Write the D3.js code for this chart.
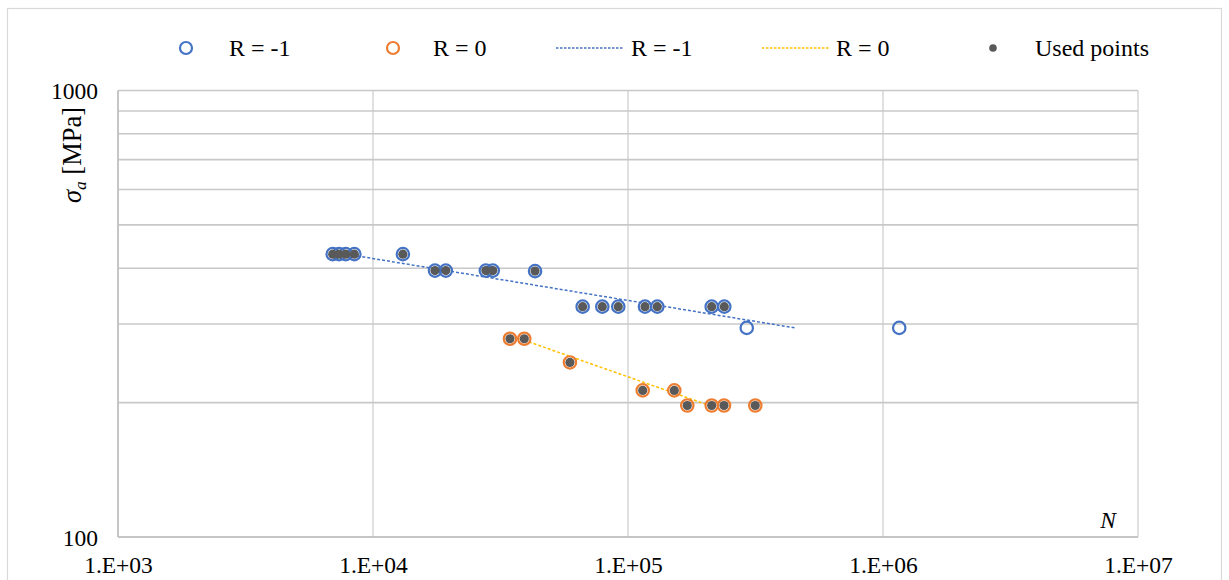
<!DOCTYPE html>
<html>
<head>
<meta charset="utf-8">
<script src="https://cdn.jsdelivr.net/npm/d3@7"></script>
<style>
  html, body { margin: 0; padding: 0; background: #fff; }
  svg { display: block; }
  text { font-family: "Liberation Serif", "Times New Roman", serif; fill: #000; }
</style>
</head>
<body>
<svg id="chart" width="1229" height="580"></svg>
<script>
// ---- data ----
const rm1N = [6950, 7360, 7820, 8450, 13100, 17500, 19300, 27700, 29500, 43200, 66400, 79300, 91600, 116600, 130300, 212900, 238600, 292200, 1158000];
const rm1S = [430, 430, 430, 430, 430, 395, 395, 395, 395, 394, 328, 328, 328, 328, 328, 328, 328, 294, 294];
const rm1Used = [1, 1, 1, 1, 1, 1, 1, 1, 1, 1, 1, 1, 1, 1, 1, 1, 1, 0, 0];

const r0N = [34450, 39200, 59200, 114200, 151900, 170800, 212900, 238000, 315600];
const r0S = [278, 278, 246, 213, 213, 197, 197, 197, 197];
const r0Used = [1, 1, 1, 1, 1, 1, 1, 1, 1];

const trendRm1N = [6950, 451600];
const trendRm1S = [435, 294];
const trendR0N = [34450, 200400];
const trendR0S = [283, 198.6];

const xTicks = [1e3, 1e4, 1e5, 1e6, 1e7];
const xTickLabels = ["1.E+03", "1.E+04", "1.E+05", "1.E+06", "1.E+07"];
const yGrid = [100, 200, 300, 400, 500, 600, 700, 800, 900, 1000];
const yTickLabels = ["1000", "100"];
const yTickValues = [1000, 100];

const legendLabels = ["R = -1", "R = 0", "R = -1", "R = 0", "Used points"];

// ---- colours ----
const blue = "#4472C4", orange = "#ED7D31", yellow = "#FFC000", gray = "#595959";

const svg = d3.select("#chart");
const pLeft = 118, pRight = 1138, pTop = 90.5, pBottom = 537;
const fs = 23.5;

const x = d3.scaleLog().domain([1e3, 1e7]).range([pLeft, pRight]);
const y = d3.scaleLog().domain([100, 1000]).range([pBottom, pTop]);

// outer chart border
svg.append("rect").attr("x", 7.5).attr("y", 8.5).attr("width", 1214).attr("height", 600)
  .attr("fill", "none").attr("stroke", "#d9d9d9").attr("stroke-width", 1.2);

// gridlines
const g = svg.append("g");
g.selectAll("line.v").data(xTicks).join("line").attr("class", "v")
  .attr("x1", d => x(d)).attr("x2", d => x(d)).attr("y1", pTop).attr("y2", pBottom)
  .attr("stroke", "#d9d9d9").attr("stroke-width", 1.6);
g.selectAll("line.h").data(yGrid).join("line").attr("class", "h")
  .attr("x1", pLeft).attr("x2", pRight).attr("y1", d => y(d)).attr("y2", d => y(d))
  .attr("stroke", "#c8c8c8").attr("stroke-width", 1.6);
// axis lines
g.append("line").attr("x1", pLeft).attr("x2", pLeft).attr("y1", pTop).attr("y2", pBottom)
  .attr("stroke", "#bfbfbf").attr("stroke-width", 1.6);
g.append("line").attr("x1", pLeft).attr("x2", pRight).attr("y1", pBottom).attr("y2", pBottom)
  .attr("stroke", "#bfbfbf").attr("stroke-width", 1.6);

// axes labels via d3 axes (no lines)
const xAxis = d3.axisBottom(x).tickValues(xTicks).tickFormat((d, i) => xTickLabels[i]).tickSize(0).tickPadding(0);
const xa = svg.append("g").attr("transform", `translate(0,${pBottom + 28})`).call(xAxis);
xa.select(".domain").remove();
xa.selectAll("text").attr("font-size", fs).attr("font-family", "Liberation Serif").attr("fill", "#000").attr("dy", "0.35em");

const yAxis = d3.axisLeft(y).tickValues(yTickValues).tickFormat((d, i) => yTickLabels[i]).tickSize(0).tickPadding(0);
const ya = svg.append("g").attr("transform", `translate(${98},0)`).call(yAxis);
ya.select(".domain").remove();
ya.selectAll("text").attr("font-size", fs).attr("font-family", "Liberation Serif").attr("fill", "#000").attr("dy", "0.35em");

// y axis title
const yt = svg.append("text").attr("transform", "translate(81,155) rotate(-90)")
  .attr("text-anchor", "middle").attr("font-size", 26.5);
yt.append("tspan").attr("font-style", "italic").text("σ");
yt.append("tspan").attr("font-style", "italic").attr("font-size", 17.5).attr("dy", 5).text("a");
yt.append("tspan").attr("dy", -5).text(" [MPa]");

// N label
svg.append("text").attr("x", 1108).attr("y", 528).attr("text-anchor", "middle")
  .attr("font-size", fs).attr("font-style", "italic").text("N");

// trendlines
const line = d3.line().x(d => x(d[0])).y(d => y(d[1]));
svg.append("path").datum(d3.zip(trendRm1N, trendRm1S)).attr("d", line)
  .attr("fill", "none").attr("stroke", blue).attr("stroke-width", 1.5).attr("stroke-dasharray", "3,2");
svg.append("path").datum(d3.zip(trendR0N, trendR0S)).attr("d", line)
  .attr("fill", "none").attr("stroke", yellow).attr("stroke-width", 1.5).attr("stroke-dasharray", "3,2");

// markers
function series(N, S, color) {
  svg.append("g").selectAll("circle").data(d3.zip(N, S)).join("circle")
    .attr("cx", d => x(d[0])).attr("cy", d => y(d[1])).attr("r", 6.2)
    .attr("fill", "none").attr("stroke", color).attr("stroke-width", 2.2);
}
series(rm1N, rm1S, blue);
series(r0N, r0S, orange);

const used = d3.zip(rm1N, rm1S, rm1Used).concat(d3.zip(r0N, r0S, r0Used)).filter(d => d[2]);
svg.append("g").selectAll("circle").data(used).join("circle")
  .attr("cx", d => x(d[0])).attr("cy", d => y(d[1])).attr("r", 4.6).attr("fill", gray);

// legend
const ly = 48;
const lg = svg.append("g");
lg.append("circle").attr("cx", 186).attr("cy", ly).attr("r", 6).attr("fill", "none").attr("stroke", blue).attr("stroke-width", 2.2);
lg.append("circle").attr("cx", 393).attr("cy", ly).attr("r", 6).attr("fill", "none").attr("stroke", orange).attr("stroke-width", 2.2);
lg.append("line").attr("x1", 556).attr("x2", 623).attr("y1", ly).attr("y2", ly).attr("stroke", blue).attr("stroke-width", 1.5).attr("stroke-dasharray", "2.5,1.5");
lg.append("line").attr("x1", 762).attr("x2", 829).attr("y1", ly).attr("y2", ly).attr("stroke", yellow).attr("stroke-width", 1.5).attr("stroke-dasharray", "2.5,1.5");
lg.append("circle").attr("cx", 993).attr("cy", ly).attr("r", 3.8).attr("fill", gray);
const lx = [229, 433, 631, 836, 1035];
lg.selectAll("text").data(legendLabels).join("text")
  .attr("x", (d, i) => lx[i]).attr("y", ly).attr("dy", "0.35em").attr("font-size", 24).text(d => d);
</script>
</body>
</html>
